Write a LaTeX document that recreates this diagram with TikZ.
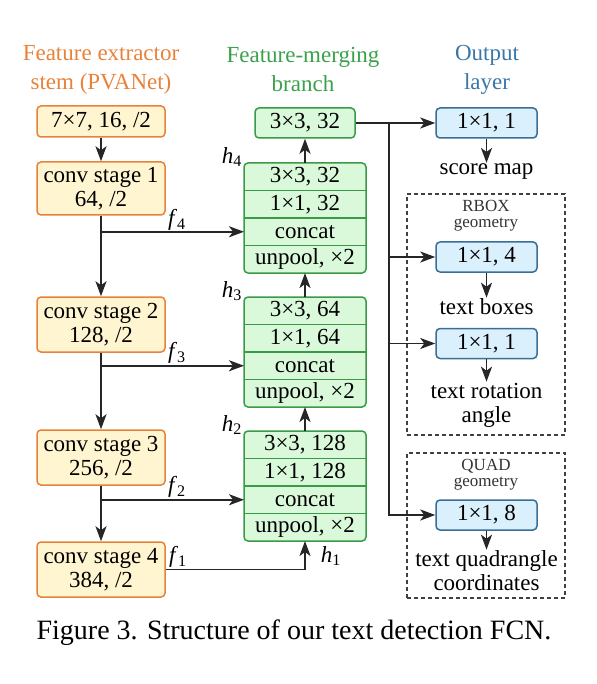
\documentclass[tikz,border=0pt]{standalone}
\usepackage{fontspec}
\setmainfont{Liberation Serif}
\usetikzlibrary{positioning, arrows.meta}
\definecolor{stemline}{HTML}{E8823A}
\definecolor{stemfill}{HTML}{FFF5D0}
\definecolor{mergeline}{HTML}{3A9A48}
\definecolor{mergefill}{HTML}{DAF8DA}
\definecolor{outcol}{HTML}{3A6E94}
\definecolor{outfill}{HTML}{DAF0FC}
\definecolor{titleorange}{HTML}{E8823A}
\definecolor{titlegreen}{HTML}{3AA14A}
\definecolor{titleblue}{HTML}{3A76A8}
\tikzset{
  title/.style={align=center, font=\fontsize{23}{29}\selectfont},
  stembox/.style={draw=stemline, fill=stemfill, rounded corners=4pt, line width=1.5pt,
    minimum width=128pt, align=center, inner sep=0pt},
  mergebox/.style={draw=mergeline, fill=mergefill, rounded corners=4pt, line width=1.5pt,
    minimum width=100pt, minimum height=30pt, inner sep=0pt},
  mergegroup/.style={draw=mergeline, fill=mergefill, rounded corners=4pt, line width=1.5pt,
    minimum width=122pt, minimum height=110pt, outer sep=0pt},
  mergerow/.style={minimum width=122pt, minimum height=27.5pt, inner sep=0pt, outer sep=0pt},
  outbox/.style={draw=outcol, fill=outfill, rounded corners=4pt, line width=1.5pt,
    minimum width=101pt, minimum height=30pt, inner sep=0pt},
  outtext/.style={align=center, inner sep=1pt},
  geobox/.style={draw=black!75, line width=1.2pt, dash pattern=on 4pt off 3pt, minimum width=158pt},
  geolabel/.style={align=center, font=\fontsize{17}{16}\selectfont, text=black!80, inner sep=0pt},
  arrow/.style={-{Stealth[length=15pt, width=11pt, inset=4pt]}, line width=1.9pt, draw=black!85},
  sublabel/.style={inner sep=0pt}
}
\begin{document}
\begin{tikzpicture}[x=1pt, y=-1pt, font=\fontsize{23}{24}\selectfont]
    \useasboundingbox (0,0) rectangle (596,684);
    % column titles
    \node[title, text=titleorange] (stemtitle) at (101,70) {Feature extractor\\stem (PVANet)};
    \node[title, text=titlegreen] (mergetitle) at (303,70) {Feature-merging\\branch};
    \node[title, text=titleblue] (outtitle) at (487,70) {Output\\layer};

    % feature extractor stem
    \node[stembox, minimum height=31pt] (stem0) at (101,121.5) {7×7, 16, /2};
    \node[stembox, minimum height=53pt] (stage1) at (101,188.5) {conv stage 1\\64, /2};
    \node[stembox, minimum height=55pt] (stage2) at (101,324.5) {conv stage 2\\128, /2};
    \node[stembox, minimum height=55pt] (stage3) at (101,457.5) {conv stage 3\\256, /2};
    \node[stembox, minimum height=55pt] (stage4) at (101,569.5) {conv stage 4\\384, /2};

    % feature-merging branch
    \node[mergebox] (merge0) at (305,123) {3×3, 32};
    \foreach \g/\y/\c in {4/218/32, 3/352/64, 2/486/128} {
        \node[mergegroup] (grp\g) at (305,\y) {};
        \node[mergerow, below=0pt of grp\g.north] (rowa\g) {3×3, \c};
        \node[mergerow, below=0pt of rowa\g] (rowb\g) {1×1, \c};
        \node[mergerow, below=0pt of rowb\g] (cat\g) {concat};
        \node[mergerow, below=0pt of cat\g] (unpool\g) {unpool, ×2};
        \draw[mergeline, line width=1.5pt] (rowa\g.south west) -- (rowa\g.south east);
        \draw[mergeline, line width=1.5pt] (rowb\g.south west) -- (rowb\g.south east);
        \draw[mergeline, line width=1.5pt] (cat\g.south west) -- (cat\g.south east);
    }

    % output layer
    \node[geobox, minimum height=241pt] (rbox) at (486,314.5) {};
    \node[geobox, minimum height=145pt] (quadbox) at (486,525.5) {};
    \node[geolabel] (rboxlabel) at (486,216) {RBOX\\geometry};
    \node[geolabel] (quadlabel) at (486,475) {QUAD\\geometry};
    \node[outbox] (score) at (486.5,123) {1×1, 1};
    \node[outbox] (boxes) at (486.5,257) {1×1, 4};
    \node[outbox] (angle) at (486.5,343.5) {1×1, 1};
    \node[outbox] (quad) at (486.5,515) {1×1, 8};
    \node[outtext] (scoremap) at (486.5,172) {score map};
    \node[outtext] (textboxes) at (486.5,307) {text boxes};
    \node[outtext] (textangle) at (486.5,405) {text rotation\\angle};
    \node[outtext] (textquad) at (486.5,571) {text quadrangle\\coordinates};

    % labels
    \node[sublabel] (f4) at (177,220) {\textit{f}\textsubscript{4}};
    \node[sublabel] (f3) at (177,353) {\textit{f}\textsubscript{3}};
    \node[sublabel] (f2) at (177,487) {\textit{f}\textsubscript{2}};
    \node[sublabel] (f1) at (178,557) {\textit{f}\textsubscript{1}};
    \node[sublabel] (h4) at (232,157) {\textit{h}\textsubscript{4}};
    \node[sublabel] (h3) at (232,291) {\textit{h}\textsubscript{3}};
    \node[sublabel] (h2) at (232,425) {\textit{h}\textsubscript{2}};
    \node[sublabel] (h1) at (331,556) {\textit{h}\textsubscript{1}};

    % connectors
    \draw[arrow] (stem0) -- (stage1);
    \draw[arrow] (stage1) -- (stage2);
    \draw[arrow] (stage2) -- (stage3);
    \draw[arrow] (stage3) -- (stage4);
    \draw[arrow] (stage1 |- cat4) -- (cat4.west);
    \draw[arrow] (stage2 |- cat3) -- (cat3.west);
    \draw[arrow] (stage3 |- cat2) -- (cat2.west);
    \draw[arrow] (stage4.east) -| (grp2.south);
    \draw[arrow] (grp2) -- (grp3);
    \draw[arrow] (grp3) -- (grp4);
    \draw[arrow] (grp4) -- (merge0);
    \coordinate (split) at (389,123);
    \draw[arrow] (merge0) -- (score);
    \draw[arrow] (split) |- (boxes.west);
    \draw[arrow] (split) |- (angle.west);
    \draw[arrow] (split) |- (quad.west);
    \draw[arrow] (score) -- (scoremap);
    \draw[arrow] (boxes) -- (textboxes);
    \draw[arrow] (angle) -- (textangle);
    \draw[arrow] (quad) -- (textquad);

    % caption
    \node (caption) at (294,633) {\fontsize{28}{30}\selectfont Figure 3. Structure of our text detection FCN.};
\end{tikzpicture}
\end{document}
